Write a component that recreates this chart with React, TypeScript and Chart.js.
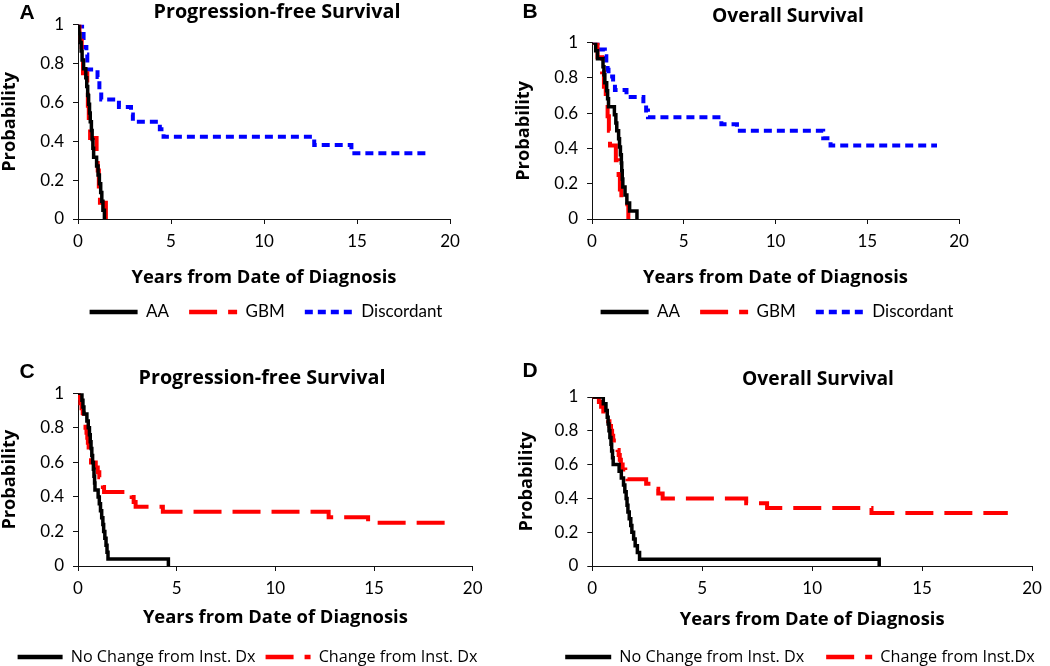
import React, { useEffect, useRef } from "react";
import { Chart, registerables } from "chart.js";

Chart.register(...registerables);

const FONT = "Lato, 'Open Sans', sans-serif";
const BOLD_FONT = "'Open Sans', Lato, sans-serif";
const WIDE_FONT = "'Open Sans', Lato, sans-serif";
const TICK_FS = 17;

// ---------- Tick labels ----------
const X_TICKS = [0, 5, 10, 15, 20];
const Y_TICKS = [0, 0.2, 0.4, 0.6, 0.8, 1];

// ---------- Panel A: Progression-free survival by diagnosis ----------
const aaPfsT = [0, 0.05, 0.1, 0.17, 0.22, 0.3, 0.42, 0.47, 0.52, 0.57, 0.62, 0.66, 0.72, 0.76, 0.8, 0.84, 1.0, 1.08, 1.15, 1.22, 1.28, 1.34, 1.42];
const aaPfsS = [1, 0.955, 0.909, 0.864, 0.818, 0.773, 0.727, 0.682, 0.636, 0.591, 0.545, 0.5, 0.455, 0.409, 0.364, 0.318, 0.273, 0.227, 0.182, 0.136, 0.091, 0.045, 0];
const gbmPfsT = [0, 0.08, 0.2, 0.27, 0.5, 0.53, 0.58, 0.65, 1.0, 1.06, 1.12, 1.18, 1.5];
const gbmPfsS = [1, 0.917, 0.833, 0.75, 0.667, 0.583, 0.5, 0.417, 0.333, 0.25, 0.167, 0.083, 0];
const discPfsT = [0, 0.22, 0.3, 0.45, 0.5, 1.05, 1.15, 1.25, 2.2, 2.85, 2.95, 4.4, 4.6, 12.7, 14.7, 18.9];
const discPfsS = [1, 0.962, 0.885, 0.846, 0.769, 0.731, 0.654, 0.615, 0.577, 0.538, 0.5, 0.462, 0.423, 0.381, 0.338, 0.338];

// ---------- Panel B: Overall survival by diagnosis ----------
const aaOsT = [0, 0.2, 0.3, 0.6, 0.65, 0.7, 0.8, 0.85, 0.9, 1.22, 1.3, 1.35, 1.45, 1.5, 1.55, 1.6, 1.62, 1.65, 1.68, 1.8, 1.9, 2.05, 2.45];
const aaOsS = [1, 0.955, 0.909, 0.864, 0.818, 0.773, 0.727, 0.682, 0.636, 0.591, 0.545, 0.5, 0.455, 0.409, 0.364, 0.318, 0.273, 0.227, 0.182, 0.136, 0.091, 0.045, 0];
const gbmOsT = [0, 0.3, 0.55, 0.65, 0.75, 0.85, 0.92, 0.98, 1.3, 1.45, 1.52, 1.6, 1.98];
const gbmOsS = [1, 0.917, 0.833, 0.75, 0.667, 0.583, 0.5, 0.417, 0.333, 0.25, 0.167, 0.083, 0];
const discOsT = [0, 0.3, 0.7, 0.78, 0.85, 0.9, 1.15, 1.25, 1.88, 2.8, 2.95, 3.05, 7.05, 7.9, 12.6, 13.0, 18.8];
const discOsS = [1, 0.962, 0.923, 0.885, 0.846, 0.808, 0.769, 0.731, 0.692, 0.654, 0.615, 0.577, 0.538, 0.5, 0.458, 0.417, 0.417];

// ---------- Panel C: Progression-free survival by change of diagnosis ----------
const noChgPfsT = [0, 0.2, 0.25, 0.3, 0.45, 0.52, 0.58, 0.62, 0.66, 0.7, 0.74, 0.78, 0.81, 0.84, 0.86, 1.02, 1.08, 1.14, 1.2, 1.26, 1.3, 1.36, 1.42, 1.47, 1.52, 4.58];
const noChgPfsS = [1, 0.96, 0.92, 0.88, 0.84, 0.8, 0.76, 0.72, 0.68, 0.64, 0.6, 0.56, 0.52, 0.48, 0.44, 0.4, 0.36, 0.32, 0.28, 0.24, 0.2, 0.16, 0.12, 0.08, 0.04, 0];
const chgPfsT = [0, 0.05, 0.12, 0.18, 0.24, 0.28, 0.33, 0.38, 0.43, 0.47, 0.5, 0.54, 0.58, 0.62, 0.66, 0.9, 1.0, 1.08, 1.2, 1.26, 1.32, 2.72, 2.82, 2.92, 4.3, 12.7, 14.7, 18.8];
const chgPfsS = [1, 0.971, 0.943, 0.914, 0.886, 0.857, 0.829, 0.8, 0.771, 0.743, 0.714, 0.686, 0.657, 0.629, 0.6, 0.571, 0.543, 0.514, 0.486, 0.457, 0.429, 0.4, 0.371, 0.343, 0.314, 0.283, 0.251, 0.251];

// ---------- Panel D: Overall survival by change of diagnosis ----------
const noChgOsT = [0, 0.5, 0.62, 0.68, 0.72, 0.76, 0.8, 0.85, 0.88, 0.92, 0.95, 1.22, 1.32, 1.42, 1.48, 1.54, 1.58, 1.62, 1.68, 1.75, 1.8, 1.88, 1.95, 2.05, 2.15, 13.05];
const noChgOsS = [1, 0.96, 0.92, 0.88, 0.84, 0.8, 0.76, 0.72, 0.68, 0.64, 0.6, 0.56, 0.52, 0.48, 0.44, 0.4, 0.36, 0.32, 0.28, 0.24, 0.2, 0.16, 0.12, 0.08, 0.04, 0];
const chgOsT = [0, 0.3, 0.4, 0.5, 0.6, 0.72, 0.78, 0.85, 0.9, 0.95, 1.1, 1.15, 1.2, 1.25, 1.3, 1.38, 1.5, 1.6, 2.45, 2.85, 3.0, 3.2, 7.0, 7.95, 12.7, 18.9];
const chgOsS = [1, 0.971, 0.943, 0.914, 0.886, 0.857, 0.829, 0.8, 0.771, 0.743, 0.714, 0.686, 0.657, 0.629, 0.6, 0.571, 0.543, 0.514, 0.486, 0.457, 0.429, 0.4, 0.371, 0.343, 0.314, 0.314];

// ---------- Styles ----------
const BLACK = "#000000";
const RED = "#ff0000";
const BLUE = "#0000ff";
const SOLID: number[] = [];
const LONG_DASH = [28, 11];
const SHORT_DASH = [8, 5];

interface Series {
  label: string;
  t: number[];
  s: number[];
  color: string;
  dash: number[];
  width: number;
}

interface PanelCfg {
  letter: string;
  title: string;
  titleW: number;
  letterPos: [number, number];
  titlePos: [number, number];
  cx: number; cy: number; cw: number; ch: number;
  L: number; R: number; T: number; B: number;
  Lc: number; Lh: number; Ly: number; lp: number; boxW: number;
  legFont: string; legFs: number;
  Xty: number; Ytx: number;
  series: Series[];
}

const mk = (label: string, t: number[], s: number[], color: string, dash: number[], width: number): Series =>
  ({ label, t, s, color, dash, width });

const PANELS: PanelCfg[] = [
  {
    letter: "A", title: "Progression-free Survival", titleW: 247, letterPos: [27, 11], titlePos: [277, 11],
    cx: 0, cy: 0, cw: 525, ch: 333,
    L: 78, R: 450, T: 24.7, B: 219,
    Lc: 266, Lh: 230, Ly: 312, lp: 20, boxW: 48, legFont: FONT, legFs: 17,
    Xty: 277.5, Ytx: 9.5,
    series: [
      mk("AA", aaPfsT, aaPfsS, BLACK, SOLID, 3.5),
      mk("GBM", gbmPfsT, gbmPfsS, RED, LONG_DASH, 4),
      mk("Discordant", discPfsT, discPfsS, BLUE, SHORT_DASH, 4),
    ],
  },
  {
    letter: "B", title: "Overall Survival", titleW: 152, letterPos: [530, 10], titlePos: [788, 15],
    cx: 505, cy: 0, cw: 545, ch: 333,
    L: 592, R: 959, T: 42.7, B: 219,
    Lc: 777, Lh: 230, Ly: 312, lp: 20, boxW: 48, legFont: FONT, legFs: 17,
    Xty: 277.5, Ytx: 524,
    series: [
      mk("AA", aaOsT, aaOsS, BLACK, SOLID, 3.5),
      mk("GBM", gbmOsT, gbmOsS, RED, LONG_DASH, 4),
      mk("Discordant", discOsT, discOsS, BLUE, SHORT_DASH, 4),
    ],
  },
  {
    letter: "C", title: "Progression-free Survival", titleW: 247, letterPos: [27, 370], titlePos: [262, 377],
    cx: -20, cy: 333, cw: 545, ch: 345,
    L: 78, R: 472.7, T: 393.3, B: 566,
    Lc: 247.5, Lh: 250, Ly: 657, lp: 10, boxW: 45, legFont: WIDE_FONT, legFs: 16.2,
    Xty: 618, Ytx: 9.5,
    series: [
      mk("No Change from Inst. Dx", noChgPfsT, noChgPfsS, BLACK, SOLID, 3.5),
      mk("Change from Inst. Dx", chgPfsT, chgPfsS, RED, LONG_DASH, 4),
    ],
  },
  {
    letter: "D", title: "Overall Survival", titleW: 152, letterPos: [530, 369], titlePos: [818, 378],
    cx: 505, cy: 333, cw: 580, ch: 345,
    L: 592.3, R: 1032, T: 397, B: 566,
    Lc: 800, Lh: 280, Ly: 657, lp: 22, boxW: 46, legFont: WIDE_FONT, legFs: 16.2,
    Xty: 620, Ytx: 527,
    series: [
      mk("No Change from Inst. Dx", noChgOsT, noChgOsS, BLACK, SOLID, 3.5),
      mk("Change from Inst.Dx", chgOsT, chgOsS, RED, LONG_DASH, 4),
    ],
  },
];

const X_TITLE = "Years from Date of Diagnosis";
const Y_TITLE = "Probability";
const X_TITLE_W = 265;
const Y_TITLE_W = 100;

let measureCtx: CanvasRenderingContext2D | null = null;
function fitSize(text: string, family: string, weight: string, target: number) {
  if (!measureCtx) measureCtx = document.createElement("canvas").getContext("2d");
  const base = 20;
  measureCtx!.font = `${weight} ${base}px ${family}`;
  const w = measureCtx!.measureText(text).width || 1;
  return (base * target) / w;
}

function geometry(c: PanelCfg, axisFs: number) {
  const legL = c.Lc - c.Lh;
  const legR = c.Lc + c.Lh;
  const pl = legL - c.cx;
  const pr = c.cx + c.cw - legR;
  const yW = c.L - legL;
  const rW = legR - c.R;
  const pt = c.T - c.cy;
  const xH = c.Ly - c.B - c.lp - c.legFs / 2;
  const pb = c.cy + c.ch - (c.B + xH + c.legFs + c.lp + 10);
  const lhT = axisFs * 1.2;
  const xTitlePadBottom = c.B + xH - lhT / 2 - c.Xty;
  return { pl, pr, yW, rW, pt, xH, pb, xTitlePadBottom };
}

function Panel({ cfg }: { cfg: PanelCfg }) {
  const ref = useRef<HTMLCanvasElement>(null);
  useEffect(() => {
    const xFs = fitSize(X_TITLE, BOLD_FONT, "bold", X_TITLE_W);
    const yFs = fitSize(Y_TITLE, BOLD_FONT, "bold", Y_TITLE_W);
    const g = geometry(cfg, xFs);
    const yLh = yFs * 1.2;
    const yPadTop = cfg.Ytx - (cfg.Lc - cfg.Lh) - yLh / 2;
    const canvas = ref.current as HTMLCanvasElement;
    const tickFont = { family: FONT, size: TICK_FS };
    const chart = new Chart(canvas, {
      type: "line",
      data: {
        datasets: cfg.series.map((s) => ({
          label: s.label,
          data: s.t.map((x, i) => ({ x, y: s.s[i] })),
          borderColor: s.color,
          backgroundColor: s.color,
          borderWidth: s.width,
          borderDash: s.dash,
          borderCapStyle: "butt",
          borderJoinStyle: "miter",
          pointRadius: 0,
          pointHoverRadius: 0,
          pointStyle: "line",
          stepped: true,
          fill: false,
          tension: 0,
          xAxisID: "x",
          yAxisID: "y",
        })),
      },
      options: {
        responsive: false,
        animation: false,
        devicePixelRatio: 1,
        events: [],
        layout: { padding: { left: g.pl, right: g.pr, top: g.pt, bottom: g.pb } },
        plugins: {
          title: { display: false },
          tooltip: { enabled: false },
          legend: {
            position: "bottom",
            fullSize: true,
            labels: {
              usePointStyle: true,
              pointStyleWidth: cfg.boxW,
              padding: cfg.lp,
              color: "#000",
              font: { family: cfg.legFont, size: cfg.legFs },
              generateLabels: (ch: any) => {
                const base = (Chart.defaults.plugins.legend.labels as any).generateLabels(ch);
                return base.map((it: any) => {
                  const s = cfg.series[it.datasetIndex];
                  return {
                    ...it,
                    pointStyle: "line",
                    lineDash: s.dash,
                    lineDashOffset: 0,
                    lineWidth: 4.5,
                    lineCap: "butt",
                    strokeStyle: s.color,
                    fillStyle: s.color,
                    fontColor: "#000",
                  };
                });
              },
            },
          },
        },
        scales: {
          x: {
            type: "linear",
            position: "bottom",
            min: 0,
            max: 20,
            afterBuildTicks: (s: any) => {
              s.ticks = X_TICKS.map((v) => ({ value: v }));
            },
            afterFit: (s: any) => {
              s.height = g.xH;
            },
            ticks: { font: tickFont, color: "#000", padding: 7, maxRotation: 0, autoSkip: false, callback: (v: any) => String(v) },
            grid: { drawOnChartArea: false, drawTicks: true, tickLength: 5, color: "#111", lineWidth: 1 },
            border: { display: true, color: "#111", width: 1 },
            title: {
              display: true,
              text: X_TITLE,
              color: "#000",
              font: { family: BOLD_FONT, size: xFs, weight: "bold" },
              padding: { top: 0, bottom: g.xTitlePadBottom },
            },
          },
          y: {
            type: "linear",
            position: "left",
            min: 0,
            max: 1,
            afterBuildTicks: (s: any) => {
              s.ticks = Y_TICKS.map((v) => ({ value: v }));
            },
            afterFit: (s: any) => {
              s.width = g.yW;
            },
            ticks: { font: tickFont, color: "#000", padding: 9, autoSkip: false, callback: (v: any) => String(v) },
            grid: { drawOnChartArea: false, drawTicks: true, tickLength: 5, color: "#111", lineWidth: 1 },
            border: { display: true, color: "#111", width: 1 },
            title: {
              display: true,
              text: Y_TITLE,
              color: "#000",
              font: { family: BOLD_FONT, size: yFs, weight: "bold" },
              padding: { top: yPadTop, bottom: 0 },
            },
          },
          yR: {
            type: "linear",
            position: "right",
            display: true,
            grid: { display: false, drawTicks: false },
            border: { display: false },
            ticks: { display: false },
            title: { display: false },
            afterFit: (s: any) => {
              s.width = g.rW;
            },
          },
        },
      } as any,
    });
    return () => chart.destroy();
  }, [cfg]);

  return (
    <canvas
      ref={ref}
      width={cfg.cw}
      height={cfg.ch}
      style={{ position: "absolute", left: cfg.cx, top: cfg.cy, width: cfg.cw, height: cfg.ch }}
    />
  );
}

function Label({ x, y, text, size, family, bold }: { x: number; y: number; text: string; size: number; family: string; bold?: boolean }) {
  return (
    <div
      style={{
        position: "absolute",
        left: x,
        top: y,
        transform: "translate(-50%, -50%)",
        fontFamily: family,
        fontSize: size,
        fontWeight: bold ? 700 : 400,
        lineHeight: 1,
        whiteSpace: "nowrap",
        color: "#000",
      }}
    >
      {text}
    </div>
  );
}

export default function App() {
  return (
    <div
      style={{
        position: "absolute",
        left: 0,
        top: 0,
        width: 1050,
        height: 666,
        overflow: "hidden",
        background: "#fff",
      }}
    >
      {PANELS.map((p) => (
        <Panel key={p.letter} cfg={p} />
      ))}
      {PANELS.map((p) => (
        <React.Fragment key={"t" + p.letter}>
          <Label x={p.letterPos[0]} y={p.letterPos[1]} text={p.letter} size={21} family="'Liberation Sans', Arial, sans-serif" bold />
          <Label
            x={p.titlePos[0]}
            y={p.titlePos[1]}
            text={p.title}
            size={fitSize(p.title, BOLD_FONT, "bold", p.titleW)}
            family={BOLD_FONT}
            bold
          />
        </React.Fragment>
      ))}
    </div>
  );
}
